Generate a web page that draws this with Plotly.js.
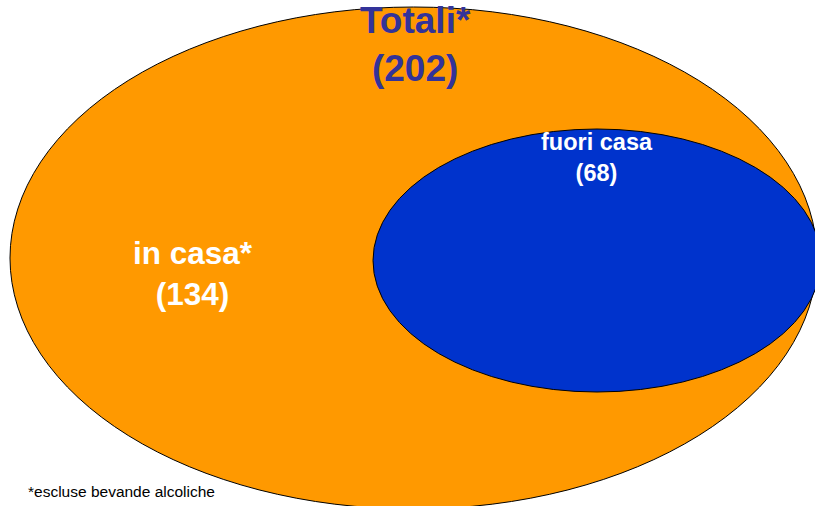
<!DOCTYPE html>
<html><head><meta charset="utf-8">
<script src="https://cdn.plot.ly/plotly-3.0.1.min.js"></script>
<style>html,body{margin:0;padding:0;background:#fff;}#c{width:815px;height:506px;}</style>
</head><body><div id="c"></div>
<script>
var setLabels = ["Totali*", "in casa*", "fuori casa"];
var setValues = [202, 134, 68];
var footnote = "*escluse bevande alcoliche";

var textColors = ["#333399", "#ffffff", "#ffffff"];
var textSizes = [37, 31.5, 23.5];
var textX = [415, 193, 597];
var textY = [44, 273, 157];

var annotations = setLabels.map(function(l, i){
  return {x: textX[i], y: textY[i], xref:'x', yref:'y', showarrow:false,
    text: l + "<br>(" + setValues[i] + ")", align:'center',
    font:{family:'Arial, "Liberation Sans", sans-serif', size:textSizes[i], color:textColors[i], weight:'bold'}};
});
annotations.push({x:26, y:491, xref:'x', yref:'y', xanchor:'left', yanchor:'middle', showarrow:false,
  text: footnote, font:{family:'Arial, "Liberation Sans", sans-serif', size:15.5, color:'#000'}});

var layout = {
  width:815, height:506, margin:{l:0,r:0,t:0,b:0},
  paper_bgcolor:'#fff', plot_bgcolor:'#fff',
  xaxis:{range:[0,815], visible:false, fixedrange:true},
  yaxis:{range:[506,0], visible:false, fixedrange:true},
  showlegend:false,
  shapes:[
    {type:'circle', xref:'x', yref:'y', x0:10, x1:817, y0:7, y1:509, fillcolor:'#FF9900', line:{color:'#000', width:1}},
    {type:'circle', xref:'x', yref:'y', x0:373, x1:821, y0:129, y1:392, fillcolor:'#0033CC', line:{color:'#000', width:1}}
  ],
  annotations: annotations
};
Plotly.newPlot('c', [{x:[], y:[], type:'scatter'}], layout, {displayModeBar:false, staticPlot:true});
</script></body></html>
